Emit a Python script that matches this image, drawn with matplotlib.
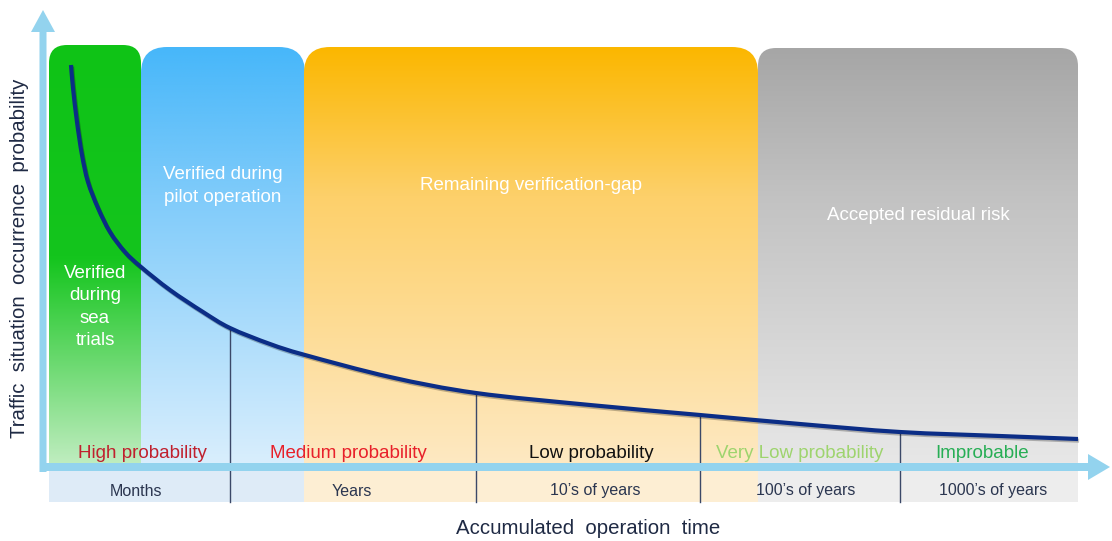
import numpy as np
import matplotlib
matplotlib.use("Agg")
import matplotlib.pyplot as plt
from matplotlib.patches import FancyBboxPatch, Rectangle, FancyArrow, PathPatch
from matplotlib.path import Path
from matplotlib.colors import LinearSegmentedColormap
import matplotlib.patheffects as pe

plt.rcParams['font.family'] = ['Liberation Sans', 'DejaVu Sans']

# ---- data (canvas units: x to the right, y downward) ----
zone_names = ["Verified\nduring\nsea\ntrials", "Verified during\npilot operation",
              "Remaining verification-gap", "Accepted residual risk"]
zone_left = [49, 141, 304, 758]
zone_right = [141, 305, 758, 1078]
zone_top = [45, 47, 47, 48]
zone_label_y = [307, 186, 186, 216]
zone_top_color = ["#0fc316", "#47b7fa", "#fbb700", "#a6a6a6"]
zone_mid_color = ["#14c51d", "#7fcbfa", "#fdd06a", "#c2c2c2"]
zone_bottom_color = ["#c4eec4", "#dbeffd", "#fee9c4", "#e8e8e8"]

strip_left = [49, 304, 758]
strip_right = [304, 758, 1078]
strip_color = ["#deebf7", "#fdeed3", "#ededed"]

curve_x = [71, 73, 77, 82, 88, 98, 110, 125, 141, 170, 203, 230, 270, 305,
           390, 476, 590, 700, 800, 900, 1000, 1078]
curve_y = [65, 88, 122, 155, 182, 208, 232, 252, 267, 290, 312, 328, 344, 355,
           377, 393, 405, 415, 424, 432, 436, 439]

divider_x = [230, 476, 700, 900]
divider_top = [328, 393, 415, 432]

prob_labels = ["High probability", "Medium probability", "Low probability",
               "Very Low probability", "Improbable"]
prob_x = [142, 348, 591, 800, 982]
prob_colors = ["#c0202e", "#e8202a", "#111111", "#9ed46e", "#27ae55"]

time_labels = ["Months", "Years", "10\u2019s of years", "100\u2019s of years",
               "1000\u2019s of years"]
time_x = [136, 352, 595, 806, 993]

W, H = 1112, 541
fig = plt.figure(figsize=(W / 100, H / 100), dpi=100)
ax = fig.add_axes([0, 0, 1, 1])
ax.set_xlim(0, W)
ax.set_ylim(H, 0)
ax.axis('off')

strip_top, strip_bottom = 470, 502

# bottom strip under the time axis
for l, r, c in zip(strip_left, strip_right, strip_color):
    ax.add_patch(Rectangle((l, strip_top), r - l, strip_bottom - strip_top,
                           facecolor=c, edgecolor='none', zorder=1))

# gradient zones with rounded top corners
grad = np.linspace(0, 1, 256).reshape(-1, 1)
for i in range(4):
    l, r, t = zone_left[i], zone_right[i], zone_top[i]
    cmap = LinearSegmentedColormap.from_list(
        f"z{i}", [(0, zone_top_color[i]), (0.5 if i == 0 else 0.35, zone_mid_color[i]),
                  (1, zone_bottom_color[i])])
    rad = 18 if i in (0, 3) else 26
    clip = FancyBboxPatch((l, t), r - l, (strip_top + 40) - t,
                          boxstyle=f"round,pad=0,rounding_size={rad}",
                          facecolor='none', edgecolor='none', transform=ax.transData)
    ax.add_patch(clip)
    im = ax.imshow(grad, cmap=cmap, aspect='auto', extent=(l, r, strip_top, t),
                   zorder=2, interpolation='bicubic')
    im.set_clip_path(clip)
    ax.text((l + r) / 2, zone_label_y[i], zone_names[i], color='white',
            fontsize=13.5, ha='center', va='center', linespacing=1.4, zorder=6)

# dividers between time scales
for x, t in zip(divider_x, divider_top):
    ax.plot([x, x], [t, strip_bottom], color='#3b4868', lw=1.0, zorder=4)

# axes arrows
arrow_c = '#93d3ee'
ax.add_patch(FancyArrow(43, 472, 0, -440, width=7, head_width=24, head_length=22,
                        length_includes_head=False, color=arrow_c, zorder=5, lw=0))
ax.add_patch(FancyArrow(40, 467, 1048, 0, width=8, head_width=26, head_length=22,
                        length_includes_head=False, color=arrow_c, zorder=5, lw=0))

# occurrence probability curve: smooth cubic path through the points
pts = np.column_stack([curve_x, curve_y]).astype(float)
verts = [pts[0]]
codes = [Path.MOVETO]
for k in range(len(pts) - 1):
    p0 = pts[k - 1] if k > 0 else pts[k]
    p1, p2 = pts[k], pts[k + 1]
    p3 = pts[k + 2] if k + 2 < len(pts) else pts[k + 1]
    verts += [p1 + (p2 - p0) / 6, p2 - (p3 - p1) / 6, p2]
    codes += [Path.CURVE4] * 3
curve = PathPatch(Path(verts, codes), facecolor='none', edgecolor='#0b2d86', lw=3.0,
                  capstyle='butt', zorder=7,
                  path_effects=[pe.SimpleLineShadow(offset=(0.8, -1.2), alpha=0.25),
                                pe.Normal()])
ax.add_patch(curve)

for s, x, c in zip(prob_labels, prob_x, prob_colors):
    ax.text(x, 453, s, color=c, fontsize=13.5, ha='center', va='center', zorder=6)

for s, x in zip(time_labels, time_x):
    ax.text(x, 491, s, color='#2b3650', fontsize=11.5, ha='center', va='center', zorder=6)

ax.text(588, 528, "Accumulated  operation  time", color='#1f2a44', fontsize=14.7,
        ha='center', va='center')
ax.text(20, 258, "Traffic  situation  occurrence  probability", color='#1f2a44',
        fontsize=14.7, ha='center', va='center', rotation=90)

fig.savefig("out.png", dpi=100)
